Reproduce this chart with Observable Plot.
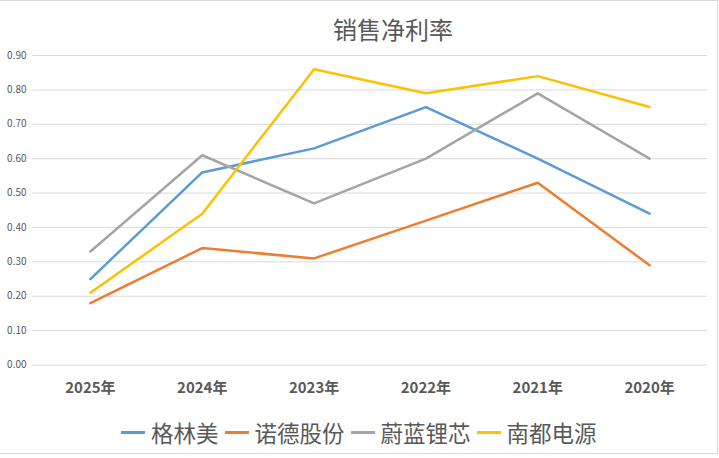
<!DOCTYPE html>
<html>
<head>
<meta charset="utf-8">
<script src="https://cdn.jsdelivr.net/npm/d3@7"></script>
<script src="https://cdn.jsdelivr.net/npm/@observablehq/plot@0.6"></script>
<style>
  html, body { margin: 0; padding: 0; background: #fff; }
  #wrap { position: relative; width: 718px; height: 454px; border-top: 1px solid #d9d9d9; border-right: 1px solid #d9d9d9; border-bottom: 1px solid #d9d9d9; box-sizing: border-box; font-family: "Noto Sans CJK SC", sans-serif; }
  #title { position: absolute; top: 12px; left: 0; width: 786px; text-align: center; font-size: 24px; line-height: 32px; color: #595959; }
  #chart { position: absolute; top: 43px; left: 0; }
  #legend { position: absolute; top: 416px; left: 121px; height: 30px; display: flex; align-items: center; font-size: 22.5px; color: #595959; white-space: nowrap; }
  .sw { display: inline-block; width: 24px; height: 3px; margin-right: 6px; }
  .it { display: flex; align-items: center; margin-right: 6px; }
</style>
</head>
<body>
<div id="wrap">
  <div id="title">销售净利率</div>
  <div id="chart"></div>
  <div id="legend"></div>
</div>
<script>
const years = ["2025年", "2024年", "2023年", "2022年", "2021年", "2020年"];
const seriesNames = ["格林美", "诺德股份", "蔚蓝锂芯", "南都电源"];
const colors = ["#5B9BD5", "#ED7D31", "#A5A5A5", "#FFC000"];
const gelinmei = [0.25, 0.56, 0.63, 0.75, 0.60, 0.44];
const nuode = [0.18, 0.34, 0.31, 0.42, 0.53, 0.29];
const weilan = [0.33, 0.61, 0.47, 0.60, 0.79, 0.60];
const nandu = [0.21, 0.44, 0.86, 0.79, 0.84, 0.75];
const yTicks = [0, 0.1, 0.2, 0.3, 0.4, 0.5, 0.6, 0.7, 0.8, 0.9];

const seriesValues = [gelinmei, nuode, weilan, nandu];
const data = [];
seriesNames.forEach((s, i) => {
  years.forEach((y, j) => data.push({ series: s, year: y, value: seriesValues[i][j] }));
});

const chart = Plot.plot({
  width: 718,
  height: 360,
  marginLeft: 32,
  marginRight: 10,
  marginTop: 11,
  marginBottom: 39,
  style: { fontFamily: "'Noto Sans CJK SC', sans-serif", background: "transparent" },
  x: { type: "point", domain: years, padding: 0.5, label: null },
  y: { domain: [0, 0.9], ticks: yTicks, label: null },
  color: { domain: seriesNames, range: colors },
  marks: [
    Plot.gridY(yTicks, { stroke: "#d9d9d9", strokeOpacity: 1, strokeWidth: 1 }),
    Plot.axisY(yTicks, { tickSize: 0, tickPadding: 6, tickFormat: d => d.toFixed(2), fontSize: 10, fill: "#595959", label: null }),
    Plot.axisX({ tickSize: 0, tickPadding: 17, fontSize: 15, fontWeight: "bold", fill: "#595959", label: null }),
    Plot.line(data, { x: "year", y: "value", z: "series", stroke: "series", strokeWidth: 2.5, strokeLinejoin: "round", strokeLinecap: "round" })
  ]
});
document.getElementById("chart").appendChild(chart);

const legend = document.getElementById("legend");
seriesNames.forEach((s, i) => {
  const it = document.createElement("span");
  it.className = "it";
  const sw = document.createElement("span");
  sw.className = "sw";
  sw.style.background = colors[i];
  it.appendChild(sw);
  it.appendChild(document.createTextNode(s));
  legend.appendChild(it);
});
</script>
</body>
</html>
